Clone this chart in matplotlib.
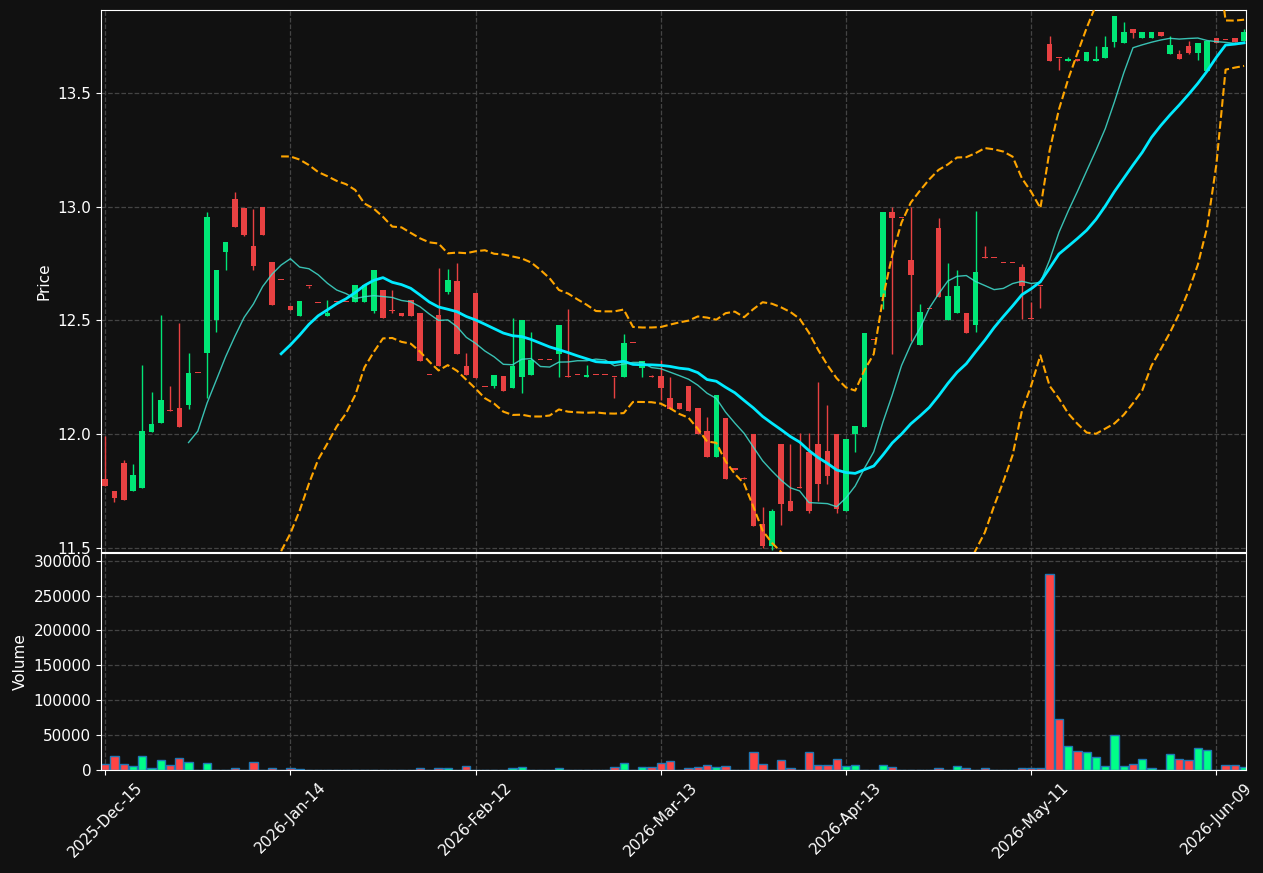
import matplotlib
matplotlib.use("Agg")
import matplotlib.pyplot as plt
import numpy as np
import pandas as pd

# trading days (US holidays dropped)
holidays = ["2025-12-25", "2026-01-01", "2026-01-19", "2026-02-16", "2026-04-03", "2026-05-25"]
dates = [d for d in pd.bdate_range("2025-12-15", "2026-06-12") if d.strftime("%Y-%m-%d") not in holidays]

opens = [11.805, 11.752, 11.875, 11.749, 11.762, 12.009, 12.048, 12.103, 12.113, 12.130,
         12.270, 12.356, 12.501, 12.799, 13.032, 12.993, 12.826, 13.000, 12.755, 12.679,
         12.563, 12.519, 12.652, 12.578, 12.519, 12.581, 12.582, 12.581, 12.581, 12.540,
         12.632, 12.543, 12.535, 12.588, 12.535, 12.261, 12.526, 12.625, 12.672, 12.302,
         12.619, 12.208, 12.211, 12.254, 12.202, 12.251, 12.260, 12.327, 12.327, 12.352,
         12.252, 12.261, 12.251, 12.261, 12.261, 12.252, 12.251, 12.402, 12.290, 12.252,
         12.254, 12.161, 12.135, 12.214, 12.117, 12.012, 11.899, 12.069, 11.852, 11.804,
         12.003, 11.603, 11.510, 11.955, 11.705, 11.764, 11.922, 11.955, 11.924, 12.003,
         11.661, 12.001, 12.032, 12.414, 12.603, 12.976, 12.952, 12.764, 12.391, 12.552,
         12.905, 12.502, 12.532, 12.535, 12.479, 12.773, 12.773, 12.753, 12.753, 12.733,
         12.505, 12.653, 13.714, 13.653, 13.639, 13.651, 13.639, 13.639, 13.656, 13.725,
         13.719, 13.782, 13.740, 13.740, 13.768, 13.670, 13.672, 13.708, 13.678, 13.599,
         13.743, 13.733, 13.743, 13.727]
highs = [11.994, 11.752, 11.887, 11.867, 12.305, 12.186, 12.522, 12.214, 12.487, 12.355,
         12.270, 12.975, 12.724, 12.843, 13.063, 12.993, 12.991, 13.000, 12.755, 12.679,
         12.563, 12.584, 12.652, 12.578, 12.588, 12.581, 12.582, 12.654, 12.654, 12.724,
         12.632, 12.635, 12.535, 12.588, 12.535, 12.261, 12.732, 12.727, 12.754, 12.355,
         12.619, 12.208, 12.262, 12.254, 12.512, 12.504, 12.450, 12.327, 12.327, 12.478,
         12.551, 12.261, 12.306, 12.261, 12.261, 12.252, 12.441, 12.402, 12.324, 12.261,
         12.326, 12.251, 12.135, 12.214, 12.117, 12.076, 12.173, 12.069, 11.852, 11.810,
         12.003, 11.680, 11.673, 11.955, 11.957, 12.006, 12.006, 12.230, 12.129, 12.003,
         11.981, 12.034, 12.443, 12.414, 12.976, 13.000, 12.952, 13.000, 12.573, 12.552,
         12.952, 12.753, 12.723, 12.535, 12.982, 12.829, 12.773, 12.753, 12.753, 12.750,
         12.583, 12.653, 13.753, 13.653, 13.658, 13.651, 13.681, 13.708, 13.749, 13.839,
         13.814, 13.782, 13.768, 13.768, 13.768, 13.751, 13.690, 13.728, 13.722, 13.731,
         13.743, 13.733, 13.743, 13.780]
lows = [11.771, 11.702, 11.710, 11.749, 11.762, 12.009, 12.048, 12.103, 12.031, 12.111,
        12.270, 12.160, 12.449, 12.721, 12.909, 12.871, 12.721, 12.874, 12.570, 12.679,
        12.548, 12.519, 12.643, 12.578, 12.519, 12.581, 12.582, 12.581, 12.581, 12.534,
        12.509, 12.534, 12.519, 12.519, 12.321, 12.261, 12.299, 12.617, 12.352, 12.260,
        12.245, 12.208, 12.202, 12.189, 12.202, 12.180, 12.260, 12.327, 12.327, 12.251,
        12.252, 12.261, 12.251, 12.261, 12.261, 12.160, 12.251, 12.402, 12.251, 12.252,
        12.150, 12.111, 12.109, 12.100, 11.999, 11.899, 11.899, 11.801, 11.842, 11.804,
        11.595, 11.500, 11.490, 11.601, 11.661, 11.764, 11.654, 11.705, 11.782, 11.654,
        11.661, 11.922, 12.032, 12.414, 12.550, 12.353, 12.952, 12.411, 12.391, 12.552,
        12.603, 12.502, 12.532, 12.447, 12.450, 12.773, 12.773, 12.753, 12.753, 12.505,
        12.505, 12.553, 13.641, 13.603, 13.639, 13.639, 13.639, 13.639, 13.656, 13.702,
        13.719, 13.741, 13.740, 13.740, 13.749, 13.670, 13.648, 13.670, 13.646, 13.599,
        13.719, 13.733, 13.724, 13.727]
closes = [11.771, 11.718, 11.710, 11.822, 12.012, 12.043, 12.152, 12.103, 12.031, 12.271,
          12.270, 12.953, 12.724, 12.843, 12.909, 12.878, 12.738, 12.874, 12.570, 12.679,
          12.548, 12.584, 12.652, 12.578, 12.535, 12.581, 12.582, 12.654, 12.654, 12.724,
          12.509, 12.543, 12.519, 12.519, 12.321, 12.261, 12.299, 12.676, 12.352, 12.260,
          12.245, 12.208, 12.262, 12.189, 12.302, 12.504, 12.328, 12.327, 12.327, 12.478,
          12.252, 12.261, 12.261, 12.261, 12.261, 12.252, 12.403, 12.402, 12.324, 12.252,
          12.202, 12.111, 12.109, 12.100, 11.999, 11.899, 12.173, 11.801, 11.842, 11.804,
          11.595, 11.510, 11.664, 11.691, 11.661, 11.764, 11.661, 11.779, 11.818, 11.669,
          11.981, 12.034, 12.443, 12.414, 12.976, 12.950, 12.952, 12.700, 12.539, 12.552,
          12.603, 12.606, 12.650, 12.447, 12.714, 12.773, 12.773, 12.753, 12.753, 12.652,
          12.505, 12.653, 13.641, 13.653, 13.651, 13.639, 13.681, 13.651, 13.703, 13.839,
          13.769, 13.766, 13.768, 13.768, 13.749, 13.712, 13.648, 13.678, 13.722, 13.731,
          13.719, 13.733, 13.724, 13.768]
volumes = [8100, 19500, 9000, 5200, 19500, 2400, 13800, 6700, 16700, 11000,
           300, 9500, 500, 500, 2900, 500, 11400, 500, 2900, 500,
           2900, 800, 500, 500, 500, 500, 0, 0, 0, 500,
           500, 500, 0, 500, 2900, 500, 2900, 2900, 500, 5700,
           500, 500, 500, 500, 2900, 4300, 500, 0, 0, 2900,
           500, 0, 500, 0, 0, 3800, 9500, 0, 3800, 3800,
           9500, 12400, 500, 2900, 3800, 6700, 3800, 5200, 500, 500,
           25200, 8100, 500, 13800, 2400, 500, 25200, 6700, 6700, 15200,
           5200, 6700, 500, 500, 6700, 3800, 0, 500, 500, 0,
           2900, 500, 5200, 2900, 500, 2900, 500, 500, 500, 2400,
           2400, 2400, 280800, 72400, 33800, 26700, 25200, 18100, 5200, 49500,
           5200, 8100, 15200, 2400, 500, 22400, 15200, 13800, 30900, 28100,
           0, 6700, 6700, 3800]

df = pd.DataFrame({"Open": opens, "High": highs, "Low": lows, "Close": closes,
                   "Volume": volumes}, index=pd.DatetimeIndex(dates[:len(opens)]))

bg = "#111111"
up_c, dn_c = "#00e676", "#e84142"
vup_c, vdn_c = "#00ff88", "#ff4444"

x = np.arange(len(df))
up = df["Close"] > df["Open"]
mav10 = df["Close"].rolling(10).mean()
mav20 = df["Close"].rolling(20).mean()
std20 = df["Close"].rolling(20).std(ddof=0)

fig = plt.figure(figsize=(12.63, 8.73), dpi=100, facecolor=bg)
ax = fig.add_axes([0.080, 0.3677, 0.9065, 0.6208], facecolor=bg)
axv = fig.add_axes([0.080, 0.118, 0.9065, 0.2486], facecolor=bg, sharex=ax)

cols = np.where(up, up_c, dn_c)
ax.vlines(x, df["Low"], df["High"], colors=cols, linewidth=1, zorder=2)
body_lo = np.minimum(df["Open"], df["Close"])
body_h = np.maximum((df["Close"] - df["Open"]).abs(), 0.004)
ax.bar(x, body_h, bottom=body_lo, width=0.6, color=cols, zorder=3)

ax.plot(x, mav10, color="#40e0d0", linewidth=1, alpha=0.85, zorder=4)
ax.plot(x, mav20, color="#00eaff", linewidth=2, zorder=4)
ax.plot(x, mav20 + 2 * std20, color="orange", linestyle="--", linewidth=1.5, zorder=4)
ax.plot(x, mav20 - 2 * std20, color="orange", linestyle="--", linewidth=1.5, zorder=4)

vcols = np.where(up, vup_c, vdn_c)
axv.bar(x, df["Volume"], width=0.9, color=vcols, edgecolor="#1f77b4", linewidth=1)

ax.set_xlim(-0.45, len(df) - 0.8)
ax.set_ylim(11.482, 13.865)
axv.set_ylim(0, 311000)
ax.set_yticks([11.5, 12.0, 12.5, 13.0, 13.5])
axv.set_yticks(range(0, 300001, 50000))
axv.ticklabel_format(axis="y", style="plain")

ticks = list(range(0, len(df), 20))
axv.set_xticks(ticks)
axv.set_xticklabels([df.index[i].strftime("%Y-%b-%d") for i in ticks], rotation=45)
plt.setp(ax.get_xticklabels(), visible=False)
ax.tick_params(axis="x", length=0)

for a in (ax, axv):
    a.grid(True, color="#444444", linestyle="--", linewidth=0.9)
    a.set_axisbelow(True)
    a.tick_params(colors="white", labelsize=11)
    for s in a.spines.values():
        s.set_color("white")
ax.set_ylabel("Price", color="white", fontsize=11)
axv.set_ylabel("Volume", color="white", fontsize=11)

fig.savefig("out.png", facecolor=bg)
